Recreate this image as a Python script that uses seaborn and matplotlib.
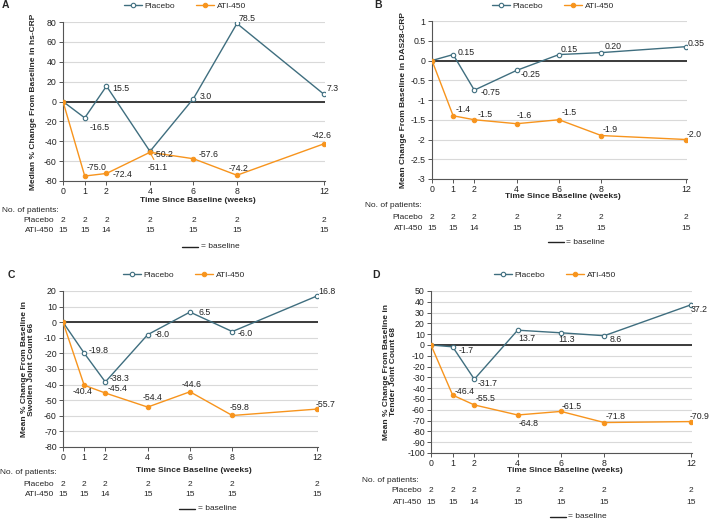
import matplotlib
matplotlib.use('Agg')
import matplotlib.pyplot as plt
import matplotlib.transforms as mtransforms
import numpy as np
import pandas as pd
import seaborn as sns

weeks = [0, 1, 2, 4, 6, 8, 12]
placebo_n = [2, 2, 2, 2, 2, 2, 2]
ati_n = [15, 15, 14, 15, 15, 15, 15]

crp_placebo = [0, -16.5, 15.5, -50.2, 3.0, 78.5, 7.3]
crp_ati = [0, -75.0, -72.4, -51.1, -57.6, -74.2, -42.6]
das_placebo = [0, 0.15, -0.75, -0.25, 0.15, 0.20, 0.35]
das_ati = [0, -1.4, -1.5, -1.6, -1.5, -1.9, -2.0]
sjc_placebo = [0, -19.8, -38.3, -8.0, 6.5, -6.0, 16.8]
sjc_ati = [0, -40.4, -45.4, -54.4, -44.6, -59.8, -55.7]
tjc_placebo = [0, -1.7, -31.7, 13.7, 11.3, 8.6, 37.2]
tjc_ati = [0, -46.4, -55.5, -64.8, -61.5, -71.8, -70.9]

das_placebo_lbl = ['0.15', '-0.75', '-0.25', '0.15', '0.20', '0.35']
das_ati_lbl = ['-1.4', '-1.5', '-1.6', '-1.5', '-1.9', '-2.0']

PLACEBO = '#3f6e7f'
ATI = '#f7941d'

sns.set_style('white')
plt.rcParams['font.family'] = ['Liberation Sans', 'DejaVu Sans']
plt.rcParams['axes.unicode_minus'] = False

W, H = 709, 520
fig = plt.figure(figsize=(W / 100, H / 100), dpi=100)


def fy(y):
    return 1 - y / H


# panel definitions: letter, pixel box (left, right, top, bottom), y range, ticks, label
panels = [
    dict(letter='A', box=(63, 325, 22, 181), ylim=(-80, 80), yticks=np.arange(-80, 81, 20),
         ylabel='Median % Change From Baseline in hs-CRP', ylx=26,
         pl=crp_placebo, at=crp_ati, pl_lbl=None, at_lbl=None,
         pl_off=[(5, -10), (6, -2), (4, -3), (6, 2), (2, 5), (3, 6)],
         at_off=[(2, 9), (6, -1), (-2, -15), (5, 4), (-8, 7), (-12, 8)],
         xl_y=200, np_y=210, pl_y=220, at_y=231, bl_y=247, np_x=2, letter_xy=(2, 5),
         leg=(185, 6)),
    dict(letter='B', box=(432, 687, 21, 179), ylim=(-3, 1), yticks=np.arange(-3, 1.01, 0.5),
         ylabel='Mean Change From Baseline in DAS28-CRP', ylx=25,
         pl=das_placebo, at=das_ati, pl_lbl=das_placebo_lbl, at_lbl=das_ati_lbl,
         pl_off=[(4, 2), (6, -2), (4, -4), (2, 5), (3, 6), (2, 3)],
         at_off=[(2, 6), (3, 5), (0, 8), (3, 7), (1, 6), (1, 5)],
         xl_y=197, np_y=206, pl_y=217, at_y=228, bl_y=242, np_x=365, letter_xy=(374, 5),
         leg=(553, 6)),
    dict(letter='C', box=(63, 318, 291, 447), ylim=(-80, 20), yticks=np.arange(-80, 21, 10),
         ylabel='Mean % Change From Baseline in\nSwollen Joint Count 66', ylx=28,
         pl=sjc_placebo, at=sjc_ati, pl_lbl=None, at_lbl=None,
         pl_off=[(4, 3), (4, 3), (7, 0), (9, 0), (5, -2), (1, 4)],
         at_off=[(-12, -6), (2, 5), (-5, 10), (-8, 7), (-3, 8), (-1, 5)],
         xl_y=471, np_y=473, pl_y=484, at_y=495, bl_y=509, np_x=0, letter_xy=(8, 275),
         leg=(184, 275)),
    dict(letter='D', box=(431, 692, 291, 453), ylim=(-100, 50), yticks=np.arange(-100, 51, 10),
         ylabel='Mean % Change From Baseline in\nTender Joint Count 68', ylx=34,
         pl=tjc_placebo, at=tjc_ati, pl_lbl=None, at_lbl=None,
         pl_off=[(6, -4), (3, -4), (1, -8), (-3, -7), (5, -4), (0, -5)],
         at_off=[(2, 4), (1, 6), (1, -9), (1, 5), (1, 6), (-1, 5)],
         xl_y=471, np_y=481, pl_y=491, at_y=502, bl_y=517, np_x=362, letter_xy=(372, 275),
         leg=(555, 275)),
]

FS = 6
for p in panels:
    l, r, t, b = p['box']
    ax = fig.add_axes([l / W, fy(b), (r - l) / W, (b - t) / H])
    ax.set_xlim(0, 12.05)
    ax.set_ylim(*p['ylim'])
    ax.set_yticks(p['yticks'])
    ax.set_yticklabels(['%g' % v for v in p['yticks']])
    ax.set_xticks(weeks)
    ax.set_xticklabels([str(w) for w in weeks])
    for v in p['yticks']:
        ax.axhline(v, color='#d9d9d9', lw=0.8, zorder=0)
    ax.axhline(0, color='#3a3a3a', lw=1.4, zorder=1)

    df = pd.DataFrame({'week': weeks, 'Placebo': p['pl'], 'ATI-450': p['at']})
    sns.lineplot(data=df, x='week', y='Placebo', ax=ax, color=PLACEBO, lw=1.0,
                 marker='o', markersize=3.2, markerfacecolor='white',
                 markeredgecolor=PLACEBO, markeredgewidth=0.8, label='Placebo', zorder=3)
    sns.lineplot(data=df, x='week', y='ATI-450', ax=ax, color=ATI, lw=1.0,
                 marker='o', markersize=3.2, markerfacecolor=ATI,
                 markeredgecolor=ATI, label='ATI-450', zorder=4)

    for series, lbls, offs, col in [(p['pl'], p['pl_lbl'], p['pl_off'], PLACEBO),
                                    (p['at'], p['at_lbl'], p['at_off'], ATI)]:
        for i, (wk, v) in enumerate(zip(weeks[1:], series[1:])):
            txt = lbls[i] if lbls else '%.1f' % v
            dx, dy = offs[i]
            arrow = None
            if p['letter'] == 'A' and col == ATI and wk == 4:
                arrow = dict(arrowstyle='-', color=ATI, lw=0.8, shrinkA=0, shrinkB=2)
            ax.annotate(txt, (wk, v), xytext=(dx, dy), textcoords='offset pixels',
                        ha='left', va='center', fontsize=6.3, color='#222222',
                        arrowprops=arrow, zorder=5, annotation_clip=False)

    sns.despine(ax=ax)
    for s in ['left', 'bottom']:
        ax.spines[s].set_color('#555555')
        ax.spines[s].set_linewidth(0.8)
    ax.tick_params(axis='both', labelsize=6.3, length=3, width=0.7, color='#555555', pad=1.5,
                   labelcolor='#222222', bottom=True, left=True)
    ax.set_xlabel('')
    ax.set_ylabel(p['ylabel'], fontsize=FS, fontweight='bold', linespacing=1.0)
    ax.yaxis.set_label_coords(-p['ylx'] / (r - l), 0.5)

    ax.legend(loc='center', bbox_to_anchor=((p['leg'][0] - l) / (r - l), (t - p['leg'][1]) / (b - t) + 1),
              ncol=2, frameon=False, fontsize=FS, handlelength=2.2, columnspacing=2.5,
              handletextpad=0.3, borderaxespad=0)

    tr = mtransforms.blended_transform_factory(ax.transData, fig.transFigure)
    fig.text((l + r) / 2 / W + 0.005, fy(p['xl_y']), 'Time Since Baseline (weeks)', fontsize=FS,
             fontweight='bold', ha='center', va='center')
    fig.text(p['np_x'] / W, fy(p['np_y']), 'No. of patients:', fontsize=FS, ha='left', va='center')
    fig.text((l - 9) / W, fy(p['pl_y']), 'Placebo', fontsize=FS, ha='right', va='center')
    fig.text((l - 9) / W, fy(p['at_y']), 'ATI-450', fontsize=FS, ha='right', va='center')
    for wk, a, c in zip(weeks, placebo_n, ati_n):
        ax.text(wk, fy(p['pl_y']), str(a), transform=tr, fontsize=FS, ha='center', va='center')
        ax.text(wk, fy(p['at_y']), str(c), transform=tr, fontsize=FS, ha='center', va='center')
    cx = (l + r) / 2 + 8
    fig.add_artist(plt.Line2D([(cx - 20) / W, (cx - 4) / W], [fy(p['bl_y'])] * 2,
                              color='#222222', lw=1.0))
    fig.text((cx - 1) / W, fy(p['bl_y']), '= baseline', fontsize=FS, ha='left', va='center')
    fig.text(p['letter_xy'][0] / W, fy(p['letter_xy'][1]), p['letter'], fontsize=7.5,
             fontweight='bold', ha='left', va='center')

fig.savefig('out.png', dpi=100)
